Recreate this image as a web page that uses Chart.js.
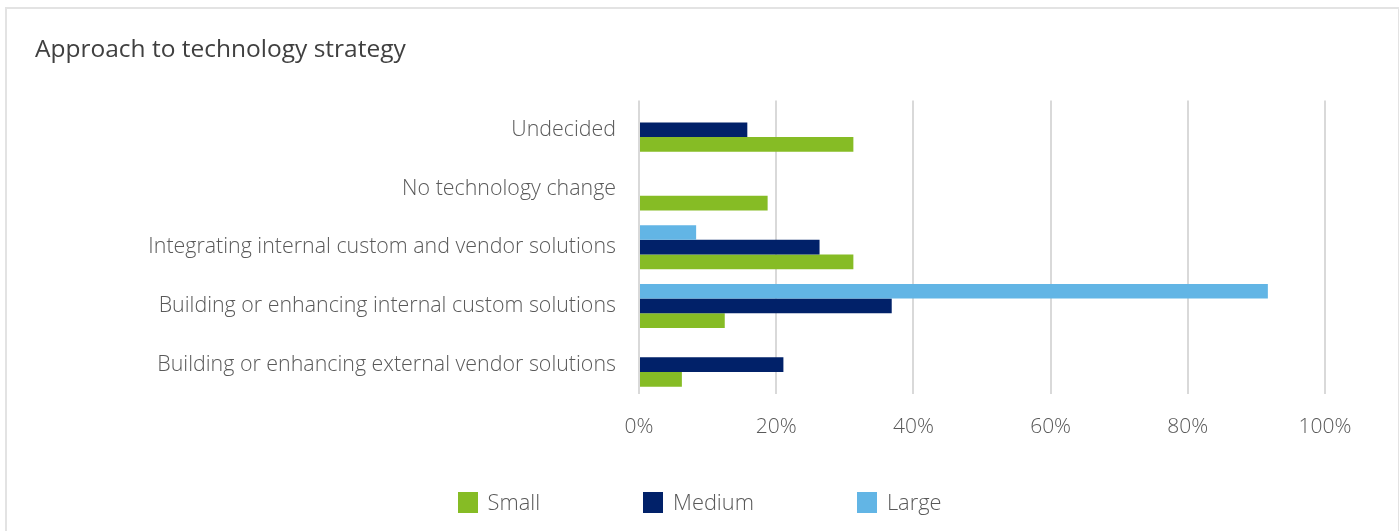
<!DOCTYPE html>
<html lang="en">
<head>
<meta charset="UTF-8">
<title>Approach to technology strategy</title>
<script src="https://cdn.jsdelivr.net/npm/chart.js"></script>
<style>
body{margin:0;background:#fff;font-family:"Open Sans",Arial,sans-serif}
.frame{position:absolute;left:5px;top:7px;width:1391px;height:540px;border:2px solid #e3e3e3;border-bottom:none}
.chart-box{position:absolute;left:0;top:0;width:1399px;height:531px}
.legend{position:absolute;left:0;top:490px;width:1399px;display:flex;justify-content:center;gap:103px;
        font-size:21.8px;font-weight:300;color:#595959}
.legend .item{display:flex;align-items:center;gap:10px;line-height:24px}
.legend .box{width:20px;height:21px;display:inline-block}
</style>
</head>
<body>
<div class="frame"></div>
<div class="chart-box"><canvas id="techChart" width="1399" height="531"></canvas></div>
<div class="legend" id="legend"></div>

<script>
// categories top to bottom
const categories = [
  'Undecided',
  'No technology change',
  'Integrating internal custom and vendor solutions',
  'Building or enhancing internal custom solutions',
  'Building or enhancing external vendor solutions'
];
// share of respondents, %
const small  = [31.25, 18.75, 31.25, 12.5, 6.25];
const medium = [15.79, 0, 26.32, 36.84, 21.05];
const large  = [0, 0, 8.33, 91.67, 0];
const xTicks = [0, 20, 40, 60, 80, 100];

const GREEN = '#86bc25', NAVY = '#012169', BLUE = '#62b5e5';
const TEXT = '#595959';

const chart = new Chart(document.getElementById('techChart'), {
  type: 'bar',
  data: {
    labels: categories,
    datasets: [
      {label: 'Large',  data: large,  backgroundColor: BLUE},
      {label: 'Medium', data: medium, backgroundColor: NAVY},
      {label: 'Small',  data: small,  backgroundColor: GREEN}
    ]
  },
  options: {
    indexAxis: 'y',
    responsive: false,
    animation: false,
    datasets: {bar: {barPercentage: 1, categoryPercentage: 0.75, borderWidth: 0}},
    layout: {padding: {left: 35, right: 74, top: 0, bottom: 87}},
    scales: {
      x: {
        min: 0, max: 100,
        afterBuildTicks: s => { s.ticks = xTicks.map(v => ({value: v})); },
        afterFit: s => { s.height = 50; },
        grid: {color: '#d9d9d9', lineWidth: 2, drawTicks: false},
        border: {display: false},
        ticks: {padding: 20, color: TEXT, font: {family: 'Open Sans', size: 21, weight: 300}, callback: v => v + '%'}
      },
      y: {
        afterFit: s => { s.width = 604; },
        grid: {display: false},
        border: {display: false},
        ticks: {padding: 15, color: TEXT, font: {family: 'Open Sans', size: 21.4, weight: 300}}
      }
    },
    plugins: {
      legend: {display: false},
      tooltip: {enabled: false},
      title: {
        display: true,
        text: 'Approach to technology strategy',
        align: 'start',
        color: '#404040',
        font: {family: 'Open Sans', size: 24.5, weight: 'normal'},
        padding: {top: 35, bottom: 36}
      }
    }
  }
});

// legend in Small, Medium, Large order
const legendEl = document.getElementById('legend');
chart.data.datasets.slice().reverse().forEach(ds => {
  const item = document.createElement('span');
  item.className = 'item';
  item.innerHTML = '<span class="box" style="background:' + ds.backgroundColor + '"></span>' + ds.label;
  legendEl.appendChild(item);
});
</script>
</body>
</html>
